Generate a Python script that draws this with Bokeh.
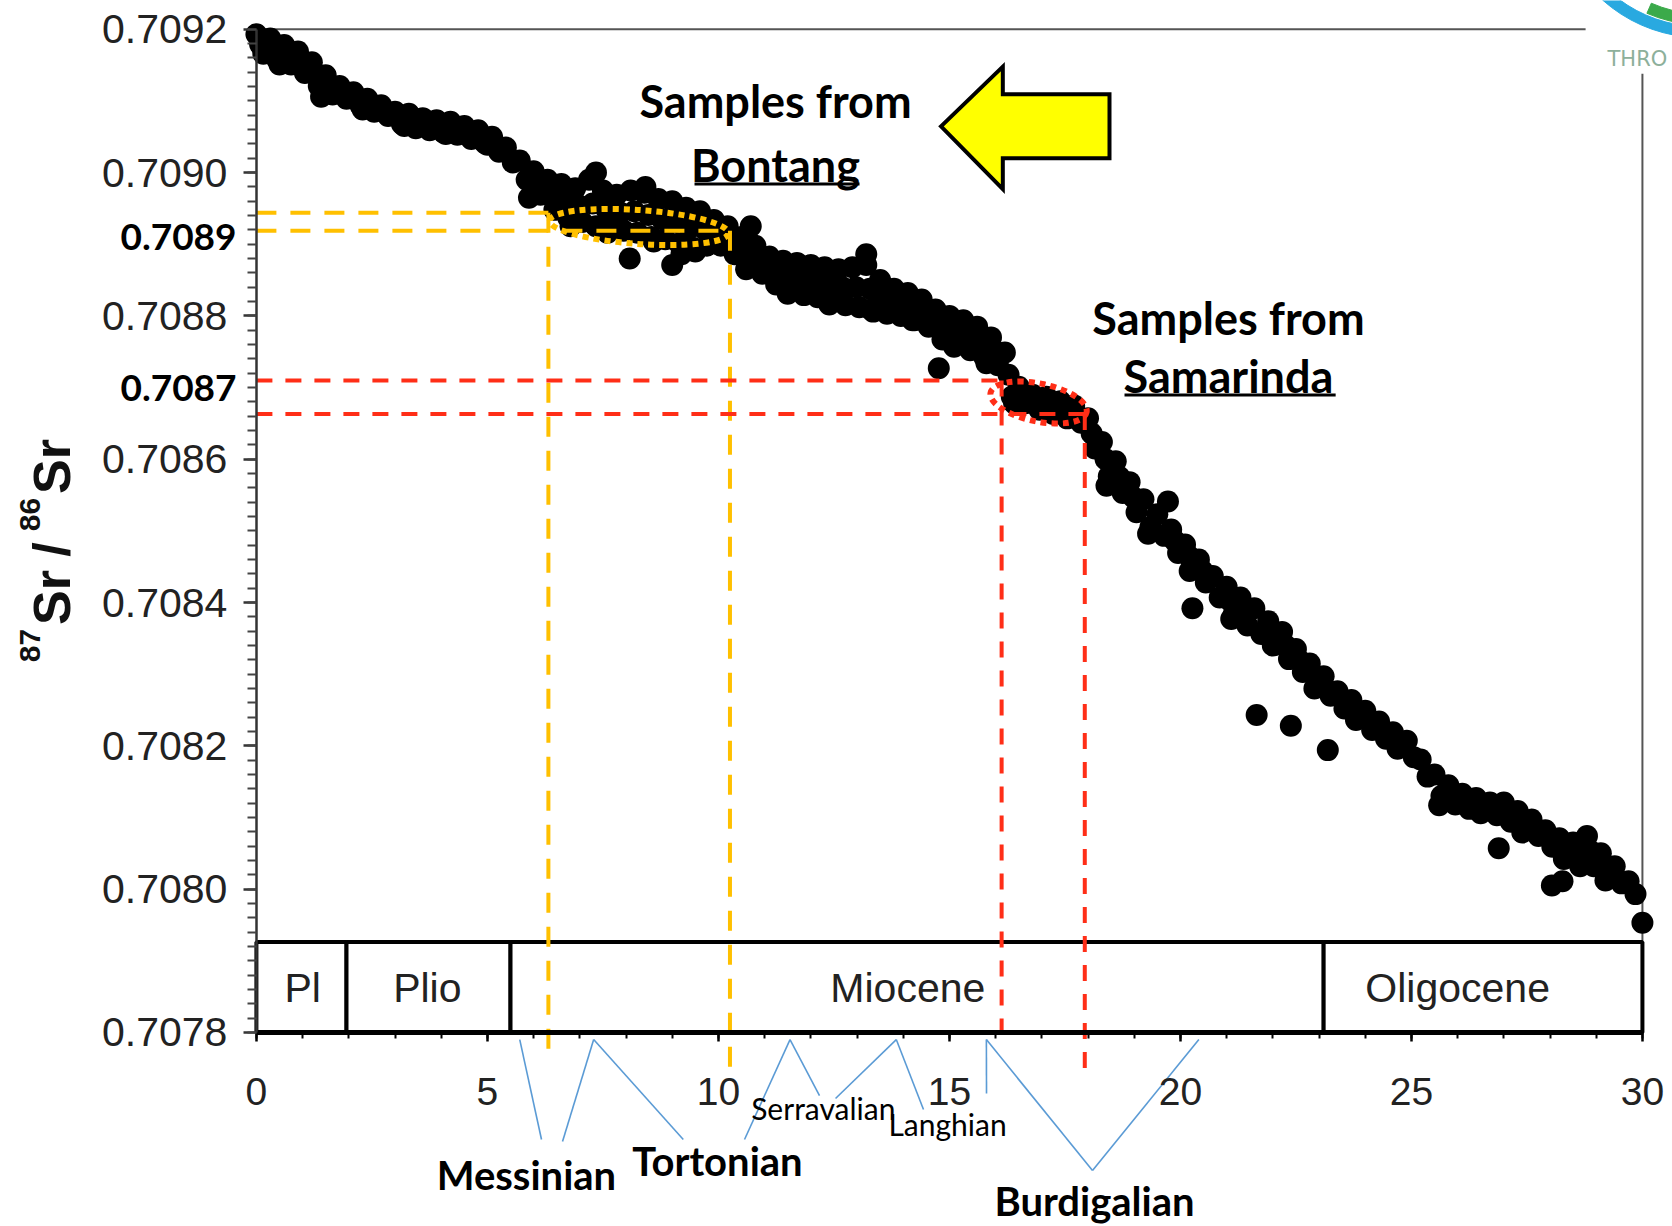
import numpy as np
from bokeh.plotting import figure
from bokeh.models import LinearAxis, FixedTicker, PrintfTickFormatter, Range1d
from bokeh.core.properties import value
from bokeh.embed import file_html
from bokeh.resources import INLINE

# ---------------- data ----------------
# age (Ma) and 87Sr/86Sr of the samples: upper edge, lower edge and middle of the cloud
U_AGE = [0.0, 0.3, 0.6, 0.9, 1.2, 1.5, 1.8, 2.1, 2.4, 2.7, 3.0, 3.3, 3.6, 3.9, 4.2, 4.5, 4.8, 5.1, 5.4, 5.7,
         6.0, 6.3, 6.6, 6.9, 7.2, 7.5, 7.8, 8.1, 8.4, 8.7, 9.0, 9.3, 9.6, 9.9, 10.2, 10.5, 10.8, 11.1, 11.4, 11.7,
         12.0, 12.3, 12.6, 12.9, 13.2, 13.5, 13.8, 14.1, 14.4, 14.7, 15.0, 15.3, 15.6, 15.9, 16.2, 16.5, 16.8, 17.1, 17.4, 17.7,
         18.0, 18.3, 18.6, 18.9, 19.2, 19.5, 19.8, 20.1, 20.4, 20.7, 21.0, 21.3, 21.6, 21.9, 22.2, 22.5, 22.8, 23.1, 23.4, 23.7,
         24.0, 24.3, 24.6, 24.9, 25.2, 25.5, 25.8, 26.1, 26.4, 26.7, 27.0, 27.3, 27.6, 27.9, 28.2, 28.5, 28.8, 29.1, 29.4, 29.7]
U_SR = [0.709193, 0.709187, 0.709178, 0.709169, 0.709154, 0.709136, 0.709121, 0.709112, 0.709103, 0.709094,
        0.709085, 0.709082, 0.709076, 0.709073, 0.709071, 0.709065, 0.709059, 0.709050, 0.709035, 0.709017,
        0.709002, 0.708990, 0.708984, 0.708978, 0.708990, 0.708975, 0.708969, 0.708975, 0.708972, 0.708963,
        0.708960, 0.708951, 0.708946, 0.708934, 0.708925, 0.708910, 0.708898, 0.708883, 0.708877, 0.708874,
        0.708871, 0.708868, 0.708865, 0.708868, 0.708871, 0.708850, 0.708838, 0.708832, 0.708823, 0.708809,
        0.708800, 0.708794, 0.708785, 0.708770, 0.708749, 0.708701, 0.708690, 0.708687, 0.708681, 0.708675,
        0.708657, 0.708624, 0.708597, 0.708568, 0.708544, 0.708523, 0.708502, 0.708481, 0.708460, 0.708437,
        0.708422, 0.708407, 0.708392, 0.708374, 0.708359, 0.708335, 0.708315, 0.708297, 0.708276, 0.708264,
        0.708249, 0.708234, 0.708219, 0.708207, 0.708181, 0.708160, 0.708145, 0.708133, 0.708127, 0.708121,
        0.708121, 0.708109, 0.708097, 0.708082, 0.708071, 0.708065, 0.708074, 0.708050, 0.708032, 0.708011]
L_AGE = [0.15, 0.45, 0.75, 1.05, 1.35, 1.65, 1.95, 2.25, 2.55, 2.85, 3.15, 3.45, 3.75, 4.05, 4.35, 4.65, 4.95, 5.25, 5.55, 5.85,
         6.15, 6.45, 6.75, 7.05, 7.35, 7.65, 7.95, 8.25, 8.55, 8.85, 9.15, 9.45, 9.75, 10.05, 10.35, 10.65, 10.95, 11.25, 11.55, 11.85,
         12.15, 12.45, 12.75, 13.05, 13.35, 13.65, 13.95, 14.25, 14.55, 14.85, 15.15, 15.45, 15.75, 16.05, 16.35, 16.65, 16.95, 17.25, 17.55, 17.85,
         18.15, 18.45, 18.75, 19.05, 19.35, 19.65, 19.95, 20.25, 20.55, 20.85, 21.15, 21.45, 21.75, 22.05, 22.35, 22.65, 22.95, 23.25, 23.55, 23.85,
         24.15, 24.45, 24.75, 25.05, 25.35, 25.65, 25.95, 26.25, 26.55, 26.85, 27.15, 27.45, 27.75, 28.05, 28.35, 28.65, 28.95, 29.25, 29.55, 29.85]
L_SR = [0.709166, 0.709158, 0.709151, 0.709139, 0.709121, 0.709109, 0.709103, 0.709094, 0.709085, 0.709079,
        0.709068, 0.709062, 0.709059, 0.709056, 0.709053, 0.709047, 0.709041, 0.709029, 0.709014, 0.708990,
        0.708969, 0.708948, 0.708937, 0.708931, 0.708925, 0.708922, 0.708919, 0.708916, 0.708910, 0.708907,
        0.708901, 0.708895, 0.708898, 0.708898, 0.708886, 0.708871, 0.708859, 0.708844, 0.708835, 0.708829,
        0.708826, 0.708820, 0.708815, 0.708812, 0.708806, 0.708803, 0.708800, 0.708794, 0.708785, 0.708767,
        0.708761, 0.708752, 0.708743, 0.708731, 0.708687, 0.708678, 0.708669, 0.708663, 0.708657, 0.708651,
        0.708615, 0.708576, 0.708553, 0.708526, 0.708505, 0.708493, 0.708469, 0.708448, 0.708428, 0.708407,
        0.708383, 0.708368, 0.708356, 0.708341, 0.708321, 0.708303, 0.708285, 0.708270, 0.708252, 0.708240,
        0.708222, 0.708210, 0.708198, 0.708184, 0.708157, 0.708130, 0.708118, 0.708112, 0.708109, 0.708103,
        0.708094, 0.708088, 0.708074, 0.708059, 0.708047, 0.708032, 0.708032, 0.708017, 0.708008, 0.707993]
M_AGE = [0.08, 0.38, 0.68, 0.98, 1.28, 6.08, 6.38, 6.68, 6.98, 7.28, 7.58, 7.88, 8.18, 8.48, 8.78, 9.08, 9.38, 9.68,
         9.98, 10.28, 10.58, 10.88, 11.18, 11.48, 11.78, 12.08, 12.38, 12.68, 12.98, 13.28, 13.58, 13.88, 14.18, 14.48,
         14.78, 15.08, 15.38, 15.68, 15.98, 16.28, 18.08, 18.38, 18.68, 18.98, 19.88, 20.18, 20.48, 21.08, 21.38, 21.98,
         22.28, 22.58, 28.58, 28.88, 29.18]
M_SR = [0.709179, 0.709172, 0.709164, 0.709154, 0.709138, 0.708986, 0.708969, 0.708960, 0.708954, 0.708957, 0.708948,
        0.708944, 0.708946, 0.708941, 0.708935, 0.708931, 0.708923, 0.708922, 0.708916, 0.708905, 0.708890, 0.708879,
        0.708864, 0.708856, 0.708852, 0.708849, 0.708844, 0.708840, 0.708840, 0.708838, 0.708826, 0.708819, 0.708813,
        0.708804, 0.708788, 0.708780, 0.708773, 0.708764, 0.708751, 0.708718, 0.708636, 0.708600, 0.708575, 0.708547,
        0.708486, 0.708465, 0.708444, 0.708402, 0.708388, 0.708358, 0.708340, 0.708319, 0.708048, 0.708053, 0.708033]
# samples on the low side of the cloud
LOW_AGE = [0.5, 1.4, 2.3, 3.2, 4.1, 5.0, 5.9, 6.8, 7.6, 8.6, 9.5, 10.6, 11.5, 12.4, 13.3, 14.2,
           15.1, 15.8, 16.4, 18.4, 19.3, 20.2, 21.1, 22.0, 22.9, 23.8, 24.7, 25.6, 26.5, 27.4, 28.3, 29.2]
LOW_SR = [0.709151, 0.709106, 0.709088, 0.709065, 0.709054, 0.709039, 0.708965, 0.708925, 0.708916, 0.708904,
          0.708890, 0.708865, 0.708831, 0.708816, 0.708809, 0.708794, 0.708757, 0.708734, 0.708678, 0.708563,
          0.708496, 0.708444, 0.708377, 0.708340, 0.708280, 0.708236, 0.708196, 0.708117, 0.708106, 0.708079,
          0.708042, 0.708012]
OUT_AGE = [7.35, 8.42, 10.7, 13.2, 14.77, 8.08, 9.0, 9.2, 19.73, 20.26, 21.65, 22.39, 23.19, 26.89, 28.04, 28.27, 30.0]
OUT_SR = [0.709000, 0.708980, 0.708925, 0.708886, 0.708727, 0.708880, 0.708871, 0.708886, 0.708541, 0.708392,
          0.708243, 0.708228, 0.708194, 0.708057, 0.708005, 0.708011, 0.707953]

EPOCH_NAMES = ["Pl", "Plio", "Miocene", "Oligocene"]
EPOCH_START = [0.0, 1.95, 5.5, 23.1]
EPOCH_END = [1.95, 5.5, 23.1, 30.0]
EPOCH_LABEL_AGE = [1.0, 3.7, 14.1, 26.0]

STAGE_NAMES = ["Messinian", "Tortonian", "Serravalian", "Langhian", "Burdigalian"]
STAGE_YOUNG = [5.7, 7.3, 11.55, 13.85, 15.8]
STAGE_OLD = [7.3, 11.55, 13.85, 15.8, 20.4]

BONTANG_SR = [0.708944, 0.708919]
BONTANG_AGE = [6.32, 10.25]
SAMARINDA_SR = [0.708710, 0.708663]
SAMARINDA_AGE = [16.13, 17.93]

X_TICKS = [0, 5, 10, 15, 20, 25, 30]
X_MINOR = list(range(0, 31))
Y_TICKS = [0.7078, 0.7080, 0.7082, 0.7084, 0.7086, 0.7088, 0.7090, 0.7092]
Y_MINOR = [round(0.7078 + 0.00002 * i, 5) for i in range(71)]
HIGHLIGHT_LABELS = ["0.7089", "0.7087"]
HIGHLIGHT_SR = [0.70891, 0.70870]

# ---------------- layout / style ----------------
YELLOW = "#FFC000"
RED = "#FF2E17"
BLUE = "#5B9BD5"
AX_BOTTOM = 0.7078
BOX_TOP = 0.707926

p = figure(width=1672, height=1226,
           x_range=Range1d(-5.539, 30.651), y_range=Range1d(0.7075291, 0.7092402),
           x_axis_type=None, y_axis_type=None,
           output_backend="svg", toolbar_location=None,
           min_border=0, outline_line_color=None,
           background_fill_color="white", border_fill_color="white")

# axes
xaxis = LinearAxis(fixed_location=AX_BOTTOM, bounds=(0, 30),
                   ticker=FixedTicker(ticks=X_TICKS, minor_ticks=X_MINOR))
xaxis.axis_line_width = 5
xaxis.axis_line_color = "black"
xaxis.major_tick_line_width = 2.5
xaxis.minor_tick_line_width = 2
xaxis.major_tick_out = 9
xaxis.major_tick_in = 0
xaxis.minor_tick_out = 6
xaxis.minor_tick_in = 0
xaxis.major_label_text_font = "Liberation Sans"
xaxis.major_label_text_font_size = "39px"
xaxis.major_label_text_color = "#222222"
xaxis.major_label_standoff = 37
p.add_layout(xaxis, "below")

yaxis = LinearAxis(fixed_location=0, bounds=(0.7078, 0.7092),
                   ticker=FixedTicker(ticks=Y_TICKS, minor_ticks=Y_MINOR),
                   formatter=PrintfTickFormatter(format="%.4f"))
yaxis.axis_line_width = 2.5
yaxis.axis_line_color = "#333333"
yaxis.major_tick_line_width = 2.5
yaxis.minor_tick_line_width = 2
yaxis.major_tick_line_color = "#333333"
yaxis.minor_tick_line_color = "#444444"
yaxis.major_tick_out = 13
yaxis.major_tick_in = 0
yaxis.minor_tick_out = 9
yaxis.minor_tick_in = 0
yaxis.major_label_text_font = "Liberation Sans"
yaxis.major_label_text_font_size = "41px"
yaxis.major_label_text_color = "#222222"
yaxis.major_label_standoff = 16
p.add_layout(yaxis, "left")

# frame lines (top and right)
p.segment(x0=[0, 30], y0=[0.7092, 0.709138], x1=[28.77, 30], y1=[0.7092, AX_BOTTOM],
          line_color="#555555", line_width=2)

# samples
p.scatter(U_AGE + L_AGE + M_AGE + LOW_AGE + OUT_AGE, U_SR + L_SR + M_SR + LOW_SR + OUT_SR,
          marker="circle", size=22, fill_color="black", line_color=None)

# epoch box
p.quad(left=EPOCH_START, right=EPOCH_END, bottom=[AX_BOTTOM] * 4, top=[BOX_TOP] * 4,
       fill_color="white", line_color="black", line_width=4)
p.text(x=EPOCH_LABEL_AGE, y=[0.707862] * 4, text=EPOCH_NAMES,
       text_font=value("Liberation Sans"), text_font_size="41px", text_color="#222222",
       text_align="center", text_baseline="middle")

# yellow (Bontang) guides
p.segment(x0=[0, 0], y0=BONTANG_SR, x1=BONTANG_AGE, y1=BONTANG_SR,
          line_color=YELLOW, line_width=4, line_dash="20 14")
p.segment(x0=BONTANG_AGE, y0=BONTANG_SR, x1=BONTANG_AGE, y1=[0.707774, 0.707734],
          line_color=YELLOW, line_width=4, line_dash="20 14")
# red (Samarinda) guides
p.segment(x0=[0, 0], y0=SAMARINDA_SR, x1=SAMARINDA_AGE, y1=SAMARINDA_SR,
          line_color=RED, line_width=4, line_dash="16 13")
p.segment(x0=SAMARINDA_AGE, y0=SAMARINDA_SR, x1=SAMARINDA_AGE, y1=[0.707789, 0.707748],
          line_color=RED, line_width=4, line_dash="16 13")

# dotted ellipses
p.ellipse(x=[8.281], y=[0.7089241], width=[179], height=[34], angle=[-0.07],
          width_units="screen", height_units="screen",
          fill_color=None, line_color=YELLOW, line_width=6, line_dash="6 5")
p.ellipse(x=[16.93], y=[0.7086791], width=[98], height=[38], angle=[-0.2],
          width_units="screen", height_units="screen",
          fill_color=None, line_color=RED, line_width=6, line_dash="6 5")

# highlighted ratio labels
p.text(x=[-0.43, -0.43], y=HIGHLIGHT_SR, text=HIGHLIGHT_LABELS,
       text_font=value("Lato"), text_font_style="bold", text_font_size="37px",
       text_color="black", text_align="right", text_baseline="middle")

# y axis title 87Sr / 86Sr
p.text(x=[-4.435, -4.435, -4.435], y=[0.7084070, 0.7084740, 0.7085898], text=["Sr", "/", "Sr"],
       angle=np.pi / 2, text_font=value("Liberation Sans"), text_font_style="bold",
       text_font_size="52px", text_color="#111111", text_align="center", text_baseline="middle")
p.text(x=[-4.911, -4.911], y=[0.7083400, 0.7085228], text=["87", "86"],
       angle=np.pi / 2, text_font=value("Liberation Sans"), text_font_style="bold",
       text_font_size="30px", text_color="#111111", text_align="center", text_baseline="middle")

# annotations
p.text(x=[11.236, 11.236, 21.04, 21.04], y=[0.7091, 0.7090113, 0.7087964, 0.7087168],
       text=["Samples from", "Bontang", "Samples from", "Samarinda"],
       text_font=value("Lato"), text_font_style="bold", text_font_size="45px",
       text_color="black", text_align="center", text_baseline="middle")
p.segment(x0=[9.483, 18.79], y0=[0.7089841, 0.7086896], x1=[13.054, 23.36], y1=[0.7089841, 0.7086896],
          line_color="black", line_width=3)

# yellow arrow
p.patch(x=[14.818, 16.156, 16.156, 18.465, 18.465, 16.156, 16.156],
        y=[0.7090646, 0.7091479, 0.7091093, 0.7091093, 0.7090200, 0.7090200, 0.7089768],
        fill_color="#FFFF00", line_color="black", line_width=4, line_join="miter")

# stage leader lines and names
TOP = 0.70779
STAGE_LEFT_END_X = [6.171, 9.240, 12.188, 14.439, 18.097]
STAGE_LEFT_END_Y = [0.7076505, 0.7076505, 0.7077119, 0.7076924, 0.7076072]
STAGE_RIGHT_END_X = [6.626, 10.565, 12.535, 15.803, 18.097]
STAGE_RIGHT_END_Y = [0.7076477, 0.7076505, 0.7077077, 0.7077147, 0.7076072]
p.segment(x0=STAGE_YOUNG, y0=[TOP] * 5, x1=STAGE_LEFT_END_X, y1=STAGE_LEFT_END_Y,
          line_color=BLUE, line_width=1.6)
p.segment(x0=STAGE_OLD, y0=[TOP] * 5, x1=STAGE_RIGHT_END_X, y1=STAGE_RIGHT_END_Y,
          line_color=BLUE, line_width=1.6)
p.text(x=[5.845, 9.98, 18.14], y=[0.7076003, 0.7076212, 0.7075650],
       text=[STAGE_NAMES[0], STAGE_NAMES[1], STAGE_NAMES[4]],
       text_font=value("Lato"), text_font_style="bold", text_font_size="40px",
       text_color="black", text_align="center", text_baseline="middle")
p.text(x=[12.27, 14.96], y=[0.7076938, 0.7076728], text=[STAGE_NAMES[2], STAGE_NAMES[3]],
       text_font=value("Lato"), text_font_size="30px",
       text_color="black", text_align="center", text_baseline="middle")

# partial logo in the corner
p.annular_wedge(x=[31.26, 31.26], y=[0.7093937, 0.7093937], inner_radius=[136, 123], outer_radius=[147, 134],
                inner_radius_units="screen", outer_radius_units="screen",
                start_angle=[3.75, 4.3], end_angle=[5.0, 5.0], color=["#29A9E0", "#3BAA4A"])
p.text(x=[29.245], y=[0.7091592], text=["THRO"], text_font=value("DejaVu Sans"), text_font_size="21px",
       text_color="#8DB09B", text_align="left", text_baseline="middle")

open("out.html", "w").write(file_html(p, INLINE))
